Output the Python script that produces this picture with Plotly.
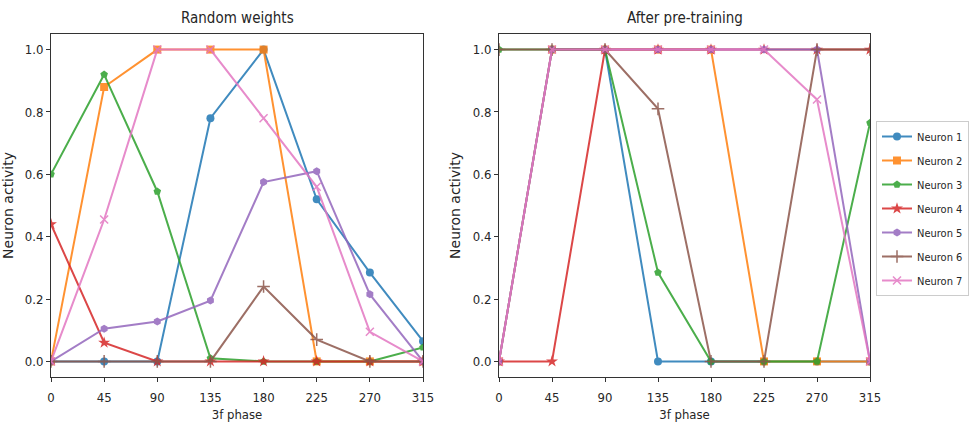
import plotly.graph_objects as go

phase = [0, 45, 90, 135, 180, 225, 270, 315]
tick_labels = ["0", "45", "90", "135", "180", "225", "270", "315"]
names = ["Neuron 1", "Neuron 2", "Neuron 3", "Neuron 4", "Neuron 5", "Neuron 6", "Neuron 7"]

random_n1 = [0, 0, 0, 0.78, 1.0, 0.52, 0.285, 0.065]
random_n2 = [0, 0.88, 1.0, 1.0, 1.0, 0, 0, 0]
random_n3 = [0.6, 0.92, 0.545, 0.01, 0, 0, 0, 0.045]
random_n4 = [0.44, 0.06, 0, 0, 0, 0, 0, 0]
random_n5 = [0, 0.105, 0.128, 0.195, 0.575, 0.61, 0.215, 0]
random_n6 = [0, 0, 0, 0, 0.24, 0.07, 0, 0]
random_n7 = [0, 0.455, 1.0, 1.0, 0.78, 0.56, 0.095, 0]

pre_n1 = [0, 1, 1, 0, 0, 0, 0, 0]
pre_n2 = [0, 1, 1, 1, 1, 0, 0, 0]
pre_n3 = [1, 1, 1, 0.285, 0, 0, 0, 0.765]
pre_n4 = [0, 0, 1, 1, 1, 1, 1, 1]
pre_n5 = [0, 1, 1, 1, 1, 1, 1, 0]
pre_n6 = [1, 1, 1, 0.81, 0, 0, 1, 1]
pre_n7 = [0, 1, 1, 1, 1, 1, 0.84, 0]

random_series = [random_n1, random_n2, random_n3, random_n4, random_n5, random_n6, random_n7]
pre_series = [pre_n1, pre_n2, pre_n3, pre_n4, pre_n5, pre_n6, pre_n7]

colors = ["#1f77b4", "#ff7f0e", "#2ca02c", "#d62728", "#9467bd", "#8c564b", "#e377c2"]
symbols = ["circle", "square", "pentagon", "star", "hexagon", "cross-thin", "x-thin"]
sizes = [8, 8, 8, 9, 8, 9, 8]

narrow = "DejaVu Sans Condensed, DejaVu Sans"
tick_font = dict(family=narrow, size=13, color="#262626")
legend_font = dict(family=narrow, size=11, color="#262626")
label_font = dict(family="DejaVu Sans", size=14, color="#262626")
title_font = dict(family=narrow, size=15, color="#262626")

fig = go.Figure()

for col, series in ((1, random_series), (2, pre_series)):
    xa = "x" if col == 1 else "x2"
    ya = "y" if col == 1 else "y2"
    for i, vals in enumerate(series):
        sym = symbols[i]
        fig.add_trace(go.Scatter(
            x=phase, y=vals, mode="lines+markers", name=names[i],
            xaxis=xa, yaxis=ya, showlegend=(col == 2), legendgroup=names[i],
            line=dict(color=colors[i], width=2),
            marker=dict(symbol=sym, size=sizes[i], color=colors[i],
                        line=dict(color=colors[i], width=1.5 if "thin" in sym else 0)),
            opacity=0.85,
        ))

common_x = dict(range=[0, 315], tickvals=phase, ticktext=tick_labels, showgrid=False, zeroline=False,
                showline=True, linecolor="#333", linewidth=1, mirror=True, ticks="outside", ticklen=4,
                tickcolor="#333", tickfont=tick_font, automargin=False, ticklabelstandoff=4,
                title=dict(text="3f phase", font=tick_font, standoff=6))
common_y = dict(range=[-0.05, 1.05], tickvals=[0, 0.2, 0.4, 0.6, 0.8, 1.0],
                ticktext=["0.0", "0.2", "0.4", "0.6", "0.8", "1.0"], showgrid=False, zeroline=False,
                showline=True, linecolor="#333", linewidth=1, mirror=True, ticks="outside", ticklen=4,
                tickcolor="#333", tickfont=tick_font, automargin=False,
                title=dict(text="Neuron activity", font=label_font, standoff=8))

fig.update_layout(
    width=969, height=426,
    margin=dict(l=0, r=0, t=0, b=0),
    plot_bgcolor="white", paper_bgcolor="white",
    xaxis=dict(domain=[51 / 969, 423 / 969], anchor="y", **common_x),
    yaxis=dict(domain=[1 - 377 / 426, 1 - 34 / 426], anchor="x", **common_y),
    xaxis2=dict(domain=[499 / 969, 870 / 969], anchor="y2", **common_x),
    yaxis2=dict(domain=[1 - 377 / 426, 1 - 34 / 426], anchor="x2", **common_y),
    legend=dict(x=1.0, y=1 - 121 / 426, xanchor="right", yanchor="top",
                bordercolor="#cccccc", borderwidth=1, bgcolor="white",
                font=legend_font, tracegroupgap=5, itemwidth=30),
    annotations=[
        dict(text="Random weights", x=(51 + 423) / 2 / 969, y=1 - 18 / 426, xref="paper", yref="paper",
             xanchor="center", yanchor="middle", showarrow=False, font=title_font),
        dict(text="After pre-training", x=(499 + 870) / 2 / 969, y=1 - 18 / 426, xref="paper", yref="paper",
             xanchor="center", yanchor="middle", showarrow=False, font=title_font),
    ],
)

fig.write_html("out.html")
